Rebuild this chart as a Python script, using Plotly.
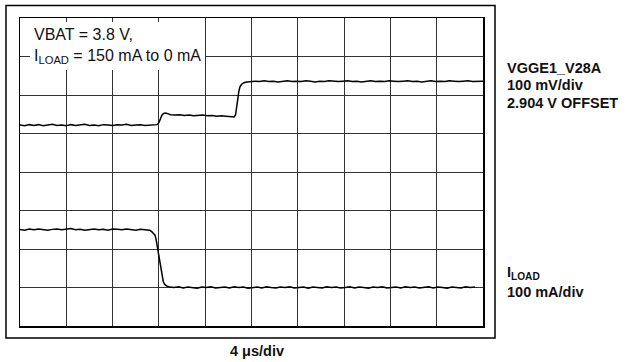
import plotly.graph_objects as go

# ---------------- data ----------------
# time axis: 4 us/div, 10 divisions
v_time_us = [0.0, 0.4, 0.8, 1.2, 1.6, 2.0, 2.4, 2.8, 3.2, 3.6, 4.0, 4.4, 4.8, 5.2, 5.6,
             6.0, 6.4, 6.8, 7.2, 7.6, 8.0, 8.4, 8.8, 9.2, 9.6, 10.0, 10.4, 10.8, 11.2,
             11.6, 11.85, 12.0, 12.12, 12.25, 12.4, 12.6, 12.8, 13.0, 13.4, 13.8, 14.2,
             14.6, 15.0, 15.4, 15.8, 16.2, 16.6, 17.0, 17.4, 17.8, 18.2, 18.5, 18.62,
             18.7, 18.8, 18.9, 19.0, 19.15, 19.35, 19.6, 19.9, 20.3, 20.7, 21.1, 21.5,
             21.9, 22.3, 22.7, 23.1, 23.5, 23.9, 24.3, 24.7, 25.1, 25.5, 25.9, 26.3,
             26.7, 27.1, 27.5, 27.9, 28.3, 28.7, 29.1, 29.5, 29.9, 30.3, 30.7, 31.1,
             31.5, 31.9, 32.3, 32.7, 33.1, 33.5, 33.9, 34.3, 34.7, 35.1, 35.5, 35.9,
             36.3, 36.7, 37.1, 37.5, 37.9, 38.3, 38.7, 39.1, 39.5, 40.0]
v_volts = [3.026, 3.024, 3.027, 3.025, 3.027, 3.024, 3.026, 3.028, 3.025, 3.026, 3.024,
           3.027, 3.025, 3.026, 3.028, 3.025, 3.026, 3.024, 3.027, 3.026, 3.025, 3.027,
           3.026, 3.028, 3.025, 3.026, 3.027, 3.025, 3.026, 3.028, 3.027, 3.032, 3.041,
           3.051, 3.056, 3.057, 3.055, 3.053, 3.052, 3.053, 3.051, 3.052, 3.050, 3.051,
           3.052, 3.050, 3.051, 3.049, 3.050, 3.049, 3.048, 3.047, 3.052, 3.065, 3.090,
           3.112, 3.125, 3.132, 3.136, 3.138, 3.139, 3.140, 3.139, 3.141, 3.139, 3.140,
           3.138, 3.140, 3.141, 3.139, 3.140, 3.139, 3.141, 3.140, 3.138, 3.140, 3.139,
           3.141, 3.140, 3.139, 3.140, 3.141, 3.139, 3.140, 3.138, 3.140, 3.141, 3.139,
           3.140, 3.139, 3.141, 3.140, 3.139, 3.140, 3.141, 3.139, 3.140, 3.138, 3.140,
           3.141, 3.139, 3.140, 3.139, 3.141, 3.140, 3.139, 3.140, 3.141, 3.139, 3.140,
           3.140]

i_time_us = [0.0, 0.4, 0.8, 1.2, 1.6, 2.0, 2.4, 2.8, 3.2, 3.6, 4.0, 4.4, 4.8, 5.2, 5.6,
             6.0, 6.4, 6.8, 7.2, 7.6, 8.0, 8.4, 8.8, 9.2, 9.6, 10.0, 10.4, 10.8, 10.97,
             11.2, 11.38, 11.55, 11.66, 11.75, 11.81, 11.95, 12.1, 12.24, 12.38, 12.5,
             12.67, 12.96, 13.3, 13.7, 14.1, 14.5, 14.9, 15.3, 15.7, 16.1, 16.5, 16.9,
             17.3, 17.7, 18.1, 18.5, 18.9, 19.3, 19.7, 20.1, 20.5, 20.9, 21.3, 21.7,
             22.1, 22.5, 22.9, 23.3, 23.7, 24.1, 24.5, 24.9, 25.3, 25.7, 26.1, 26.5,
             26.9, 27.3, 27.7, 28.1, 28.5, 28.9, 29.3, 29.7, 30.1, 30.5, 30.9, 31.3,
             31.7, 32.1, 32.5, 32.9, 33.3, 33.7, 34.1, 34.5, 34.9, 35.3, 35.7, 36.1,
             36.5, 36.9, 37.3, 37.7, 38.1, 38.5, 38.9, 39.3, 39.7, 40.0]
i_mA = [151, 149, 152, 150, 152, 151, 149, 151, 152, 150, 151, 153, 150, 151, 149, 151,
        152, 150, 151, 149, 152, 151, 150, 152, 151, 149, 151, 150, 151, 149, 145, 140,
        136, 126, 115, 90, 64, 32, 15, 8, 4, 1, 0, 2, -1, 1, 0, -2, 1, 0, 2, -1, 0, 1,
        -1, 2, 0, 1, -2, 0, 1, -1, 2, 0, -1, 1, 0, 2, -1, 0, 1, -2, 1, 0, -1, 2, 0, 1,
        -1, 0, 2, -1, 1, 0, -2, 1, 0, 2, -1, 0, 1, -1, 2, 0, 1, -1, 0, 2, -1, 1, 0, -2,
        1, 0, -1, 2, 0, 1]

x_range_us = [0, 40]
x_div_us = 4
v_range = [2.504, 3.304]   # 100 mV/div, 8 div
v_div = 0.1
i_range_mA = [-100, 700]   # 100 mA/div, 8 div

note_text = "VBAT = 3.8 V,<br>I<sub>LOAD</sub> = 150 mA to 0 mA"
v_labels = ["VGGE1_V28A", "100 mV/div", "2.904 V OFFSET"]
i_labels = ["I<sub>LOAD</sub>", "100 mA/div"]
x_label = "4 μs/div"

# ---------------- figure ----------------
FONT = "Liberation Sans, Arial, Helvetica, sans-serif"
L, R, T, B = 20, 146, 18, 36
W, H = 629, 362
pw, ph = W - L - R, H - T - B


def px_x(px):
    return (px - L) / pw


def px_y(py):
    return (H - B - py) / ph


fig = go.Figure()
fig.add_trace(go.Scatter(x=v_time_us, y=v_volts, mode="lines",
                         line=dict(color="black", width=1.5), yaxis="y",
                         hoverinfo="skip", showlegend=False))
fig.add_trace(go.Scatter(x=i_time_us, y=i_mA, mode="lines",
                         line=dict(color="black", width=1.5), yaxis="y2",
                         hoverinfo="skip", showlegend=False))

annotations = [
    dict(text=note_text, xref="paper", yref="paper", x=px_x(30), y=px_y(22),
         xanchor="left", yanchor="top", align="left", showarrow=False,
         bgcolor="white", borderpad=4, borderwidth=0,
         font=dict(family=FONT, size=16, color="#111")),
]
v_mid = [67.5, 85.2, 102.8]
for t, py in zip(v_labels, v_mid):
    annotations.append(dict(text="<b>%s</b>" % t, xref="paper", yref="paper",
                            x=px_x(505), y=px_y(py), xanchor="left", yanchor="middle",
                            showarrow=False, font=dict(family=FONT, size=14.5, color="#111")))
i_mid = [273, 292]
for t, py in zip(i_labels, i_mid):
    annotations.append(dict(text="<b>%s</b>" % t, xref="paper", yref="paper",
                            x=px_x(505), y=px_y(py), xanchor="left", yanchor="middle",
                            showarrow=False, font=dict(family=FONT, size=14.5, color="#111")))
annotations.append(dict(text="<b>%s</b>" % x_label, xref="paper", yref="paper",
                        x=px_x(256.5), y=px_y(350.5), xanchor="center", yanchor="middle",
                        showarrow=False, font=dict(family=FONT, size=14.5, color="#111")))

shapes = [
    # outer frame
    dict(type="rect", xref="paper", yref="paper", x0=px_x(6), x1=px_x(495),
         y0=px_y(338), y1=px_y(5.5), fillcolor="rgba(0,0,0,0)",
         line=dict(color="black", width=1.5)),
]

fig.update_layout(
    width=W, height=H, margin=dict(l=L, r=R, t=T, b=B),
    paper_bgcolor="white", plot_bgcolor="white",
    showlegend=False, annotations=annotations, shapes=shapes,
    xaxis=dict(range=x_range_us, tick0=0, dtick=x_div_us, showgrid=True,
               gridcolor="#333", gridwidth=1, showticklabels=False, ticks="",
               zeroline=False, showline=True, mirror=True, linecolor="black",
               linewidth=1.5, fixedrange=True),
    yaxis=dict(range=v_range, tick0=v_range[0], dtick=v_div, showgrid=True,
               gridcolor="#333", gridwidth=1, showticklabels=False, ticks="",
               zeroline=False, showline=True, mirror=True, linecolor="black",
               linewidth=1.5, fixedrange=True),
    yaxis2=dict(range=i_range_mA, overlaying="y", side="right", showgrid=False,
                showticklabels=False, ticks="", zeroline=False, showline=False,
                fixedrange=True),
)

fig.write_html("out.html", config={"staticPlot": True},
               post_script="document.body.style.margin='0';"
                           "document.body.style.overflow='hidden';")
